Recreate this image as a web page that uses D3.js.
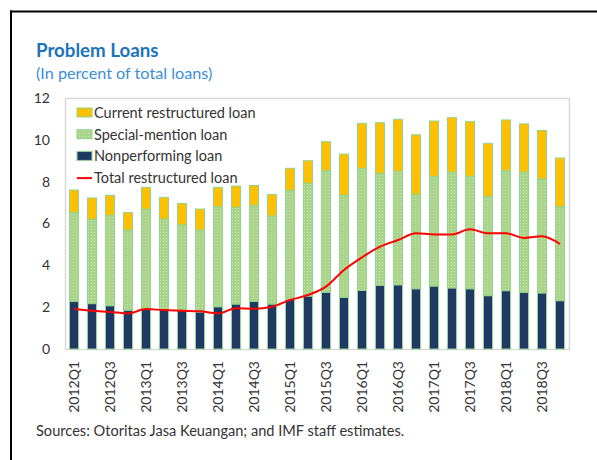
<!DOCTYPE html>
<html>
<head>
<meta charset="utf-8">
<script src="https://cdn.jsdelivr.net/npm/d3@7/dist/d3.min.js"></script>
<style>
    body { margin: 0; background: #fff; }
    text { font-family: Lato, "Open Sans", sans-serif; fill: #333; }
    .title { font-size: 18.7px; font-weight: bold; fill: #1c73be; }
    .subtitle { font-size: 16.2px; fill: #3b8fd6; }
    .tick text { font-size: 14px; fill: #333; }
    .legend text { font-size: 14.5px; fill: #333; }
    .source { font-size: 14.6px; fill: #333; }
</style>
</head>
<body>
<script>

    var quarters = [
        "2012Q1", "2012Q2", "2012Q3", "2012Q4",
        "2013Q1", "2013Q2", "2013Q3", "2013Q4",
        "2014Q1", "2014Q2", "2014Q3", "2014Q4",
        "2015Q1", "2015Q2", "2015Q3", "2015Q4",
        "2016Q1", "2016Q2", "2016Q3", "2016Q4",
        "2017Q1", "2017Q2", "2017Q3", "2017Q4",
        "2018Q1", "2018Q2", "2018Q3", "2018Q4"
    ];

    // nonperforming loans (bottom of stack)
    var npl = [2.28, 2.17, 2.07, 1.86, 1.95, 1.90, 1.86, 1.77,
               2.02, 2.15, 2.28, 2.15, 2.38, 2.53, 2.71, 2.47,
               2.80, 3.04, 3.07, 2.88, 3.01, 2.92, 2.88, 2.55,
               2.79, 2.71, 2.68, 2.31];

    // special-mention loans
    var specialMention = [4.25, 4.03, 4.32, 3.83, 4.73, 4.31, 4.07, 3.92,
                          4.78, 4.62, 4.59, 4.21, 5.21, 5.39, 5.81, 4.88,
                          5.84, 5.36, 5.42, 4.51, 5.25, 5.54, 5.38, 4.73,
                          5.73, 5.75, 5.45, 4.49];

    // current restructured loans (top of stack)
    var currentRestructured = [1.07, 1.02, 0.96, 0.84, 1.05, 1.04, 1.03, 1.00,
                               0.93, 1.02, 0.95, 1.03, 1.05, 1.08, 1.39, 1.97,
                               2.15, 2.42, 2.49, 2.85, 2.64, 2.60, 2.61, 2.55,
                               2.43, 2.30, 2.32, 2.33];

    var totalRestructured = [1.91, 1.83, 1.77, 1.70, 1.91, 1.86, 1.83, 1.80,
                             1.70, 1.95, 1.93, 2.02, 2.34, 2.58, 2.98, 3.78,
                             4.38, 4.89, 5.21, 5.53, 5.48, 5.48, 5.72, 5.53,
                             5.53, 5.31, 5.39, 5.02];

    var yTicks = [0, 2, 4, 6, 8, 10, 12];

    var width = 597,
        height = 460;

    var margin = {left: 65, right: 28, top: 98, bottom: 111};

    var svg = d3.select("body").append("svg")
        .attr("width", width)
        .attr("height", height);

    // dotted fill for the special-mention segment
    var defs = svg.append("defs");
    var pat = defs.append("pattern")
        .attr("id", "dots")
        .attr("patternUnits", "userSpaceOnUse")
        .attr("width", 3)
        .attr("height", 3);
    pat.append("rect").attr("width", 3).attr("height", 3).attr("fill", "#a9d48a");
    pat.append("rect").attr("x", 1).attr("y", 1).attr("width", 1).attr("height", 1).attr("fill", "#c6e4ac");

    var fills = ["#1f3864", "url(#dots)", "#ffc000"];

    // page frame
    svg.append("line")
        .attr("x1", 10).attr("x2", width).attr("y1", 11.5).attr("y2", 11.5)
        .attr("stroke", "#000").attr("stroke-width", 2);
    svg.append("line")
        .attr("x1", 11).attr("x2", 11).attr("y1", 10.5).attr("y2", height)
        .attr("stroke", "#000").attr("stroke-width", 2);

    svg.append("text").attr("class", "title")
        .attr("x", 36).attr("y", 57)
        .text("Problem Loans");
    svg.append("text").attr("class", "subtitle")
        .attr("x", 36).attr("y", 79)
        .text("(In percent of total loans)");

    var x = d3.scaleBand()
        .domain(quarters)
        .range([margin.left, width - margin.right])
        .paddingInner(0.5)
        .paddingOuter(0.25);

    var y = d3.scaleLinear()
        .domain([0, 12])
        .range([height - margin.bottom, margin.top]);

    // plot box
    svg.append("rect")
        .attr("x", margin.left + 0.5)
        .attr("y", margin.top + 0.5)
        .attr("width", width - margin.right - margin.left)
        .attr("height", height - margin.bottom - margin.top)
        .attr("fill", "none")
        .attr("stroke", "#d9d9d9")
        .attr("stroke-width", 1.5);

    var yAxis = svg.append("g")
        .attr("transform", "translate(" + (margin.left - 15) + ",0)")
        .call(d3.axisLeft(y).tickValues(yTicks).tickSize(0).tickPadding(0));
    yAxis.select(".domain").remove();

    var xAxis = svg.append("g")
        .attr("transform", "translate(0," + (height - margin.bottom) + ")")
        .call(d3.axisBottom(x)
            .tickValues(quarters.filter(function (d, i) { return i % 2 === 0; }))
            .tickSize(0));
    xAxis.select(".domain").remove();
    xAxis.selectAll("text")
        .attr("transform", "rotate(-90)")
        .attr("text-anchor", "end")
        .attr("x", -12)
        .attr("y", 0)
        .attr("dy", "0.35em");

    var table = quarters.map(function (q, i) {
        return {q: q, npl: npl[i], sm: specialMention[i], cr: currentRestructured[i]};
    });

    var stack = d3.stack().keys(["npl", "sm", "cr"]);
    var layers = stack(table);

    svg.append("g")
        .selectAll("g")
        .data(layers)
        .enter().append("g")
        .attr("fill", function (d, i) { return fills[i]; })
        .selectAll("rect")
        .data(function (d) { return d; })
        .enter().append("rect")
        .attr("x", function (d) { return x(d.data.q); })
        .attr("y", function (d) { return y(d[1]); })
        .attr("width", x.bandwidth())
        .attr("height", function (d) { return y(d[0]) - y(d[1]); })
        .attr("stroke", "#8fd48f")
        .attr("stroke-width", 1);

    var line = d3.line()
        .x(function (d, i) { return x(quarters[i]) + x.bandwidth() / 2; })
        .y(function (d) { return y(d); })
        .curve(d3.curveMonotoneX);

    svg.append("path")
        .datum(totalRestructured)
        .attr("d", line)
        .attr("fill", "none")
        .attr("stroke", "#ff0000")
        .attr("stroke-width", 2);

    // legend
    var legend = svg.append("g").attr("class", "legend");
    var legendItems = [
        {name: "Current restructured loan", fill: "#ffc000", kind: "box"},
        {name: "Special-mention loan", fill: "url(#dots)", kind: "box"},
        {name: "Nonperforming loan", fill: "#1f3864", kind: "box"},
        {name: "Total restructured loan", fill: "#ff0000", kind: "line"}
    ];
    legendItems.forEach(function (d, i) {
        var yy = 113 + i * 21.7;
        if (d.kind === "box") {
            legend.append("rect")
                .attr("x", 77).attr("y", yy - 5)
                .attr("width", 15).attr("height", 9)
                .attr("fill", d.fill)
                .attr("stroke", "#8fd48f");
        } else {
            legend.append("line")
                .attr("x1", 77).attr("x2", 92)
                .attr("y1", yy).attr("y2", yy)
                .attr("stroke", d.fill).attr("stroke-width", 2);
        }
        legend.append("text")
            .attr("x", 94).attr("y", yy)
            .attr("dy", "0.35em")
            .text(d.name);
    });

    svg.append("text").attr("class", "source")
        .attr("x", 36).attr("y", 436)
        .text("Sources: Otoritas Jasa Keuangan; and IMF staff estimates.");

</script>
</body>
</html>
